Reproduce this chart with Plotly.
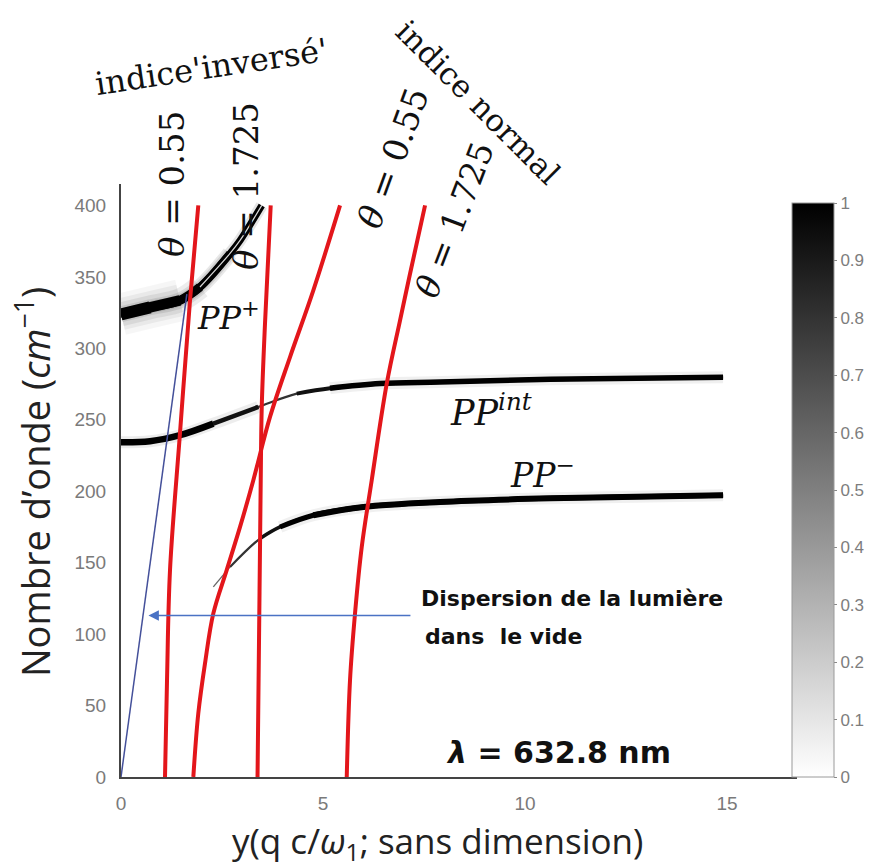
import plotly.graph_objects as go

# ---------------- data ----------------
# polariton branches (bright ridges of the intensity map), y in cm^-1
pp_plus_x = [0, 0.718, 1.460, 1.955, 2.698, 2.946, 3.483]
pp_plus_y = [323.8, 328.7, 333.6, 342.9, 366.4, 375.5, 400]

pp_int_x = [0, 0.718, 1.460, 2.285, 3.399, 4.349, 5.173, 6.411, 7.896, 10.62, 14.90]
pp_int_y = [234.3, 235.0, 239.2, 247.3, 259.0, 268.3, 272.0, 275.3, 276.4, 278.3, 279.7]

pp_minus_x = [2.285, 2.698, 3.441, 3.936, 4.760, 5.998, 7.896, 10.62, 14.90]
pp_minus_y = [133.0, 147.0, 166.9, 175.0, 183.2, 189.0, 192.5, 195.0, 197.2]

# theta curves (red)
inv055_x = [1.089, 1.139, 1.213, 1.460, 1.708, 1.913]
inv055_y = [0, 67.8, 144.8, 240.6, 333.6, 400]
inv1725_x = [3.379, 3.423, 3.458, 3.483, 3.564, 3.705]
inv1725_y = [0, 114.7, 207.7, 258.7, 317.5, 400]
norm055_x = [1.790, 1.913, 2.079, 2.285, 2.616, 2.946, 3.275, 3.688, 4.183, 4.760, 5.421]
norm055_y = [0, 44.5, 79.5, 114.5, 144.8, 175.0, 207.7, 252.0, 293.9, 340.6, 400]
norm1725_x = [5.587, 5.668, 5.792, 5.958, 6.205, 6.577, 6.906, 7.153, 7.525]
norm1725_y = [0, 67.8, 114.5, 161.0, 207.7, 275.3, 319.6, 352.2, 400]

# light line in vacuum
light_x = [0, 1.63]
light_y = [0, 338]

# arrow pointing to the light line
arrow_y = 113
arrow_tail_x = 7.20
arrow_head_x = 0.68

# colour bar
cbar_range = [0, 1]
cbar_ticks = [0, 0.1, 0.2, 0.3, 0.4, 0.5, 0.6, 0.7, 0.8, 0.9, 1]
cbar_labels = ["0", "0.1", "0.2", "0.3", "0.4", "0.5", "0.6", "0.7", "0.8", "0.9", "1"]
x_ticks = [0, 5, 10, 15]
y_ticks = [0, 50, 100, 150, 200, 250, 300, 350, 400]

# ---------------- figure ----------------
W, H = 872, 868
L, R, T, B = 121, 75, 184, 91
PW, PH = W - L - R, H - T - B


def paper(px, py):
    return (px - L) / PW, (H - B - py) / PH


fig = go.Figure()


def line(xs, ys, w, c, i0=0, i1=None):
    if i1 is None:
        i1 = len(xs) - 1
    fig.add_trace(go.Scatter(x=xs[i0:i1 + 1], y=ys[i0:i1 + 1], mode="lines",
                             line=dict(color=c, width=w, shape="spline"),
                             hoverinfo="skip", showlegend=False))


# invisible heatmap (outside the axes range) that carries the colour bar
fig.add_trace(go.Heatmap(
    z=[cbar_range], x=[-6, -5], y=[-60, -50], zmin=0, zmax=1,
    colorscale=[[0, "#ffffff"], [1, "#000000"]], hoverinfo="skip", showscale=True,
    colorbar=dict(x=(792 - L) / PW, xanchor="left", xref="paper",
                  y=0, yanchor="bottom", len=(777 - 203) / PH, lenmode="fraction",
                  thickness=42, thicknessmode="pixels",
                  outlinewidth=1, outlinecolor="#9a9a9a",
                  tickmode="array", tickvals=cbar_ticks, ticktext=cbar_labels,
                  ticks="outside", ticklen=3, tickcolor="#888",
                  tickfont=dict(family="Liberation Sans", size=17, color="#7d7d7d"),
                  ypad=0, xpad=0)))

# ---- PP+ : broad blurred band at left, tapering towards the top
for w, a, i1 in [(42, 0.035, 2), (32, 0.05, 2), (24, 0.07, 3), (16, 0.09, 4), (12, 0.1, 6)]:
    line(pp_plus_x, pp_plus_y, w, f"rgba(0,0,0,{a})", 0, i1)
line(pp_plus_x, pp_plus_y, 7, "black")
line(pp_plus_x, pp_plus_y, 8, "black", 0, 4)
line(pp_plus_x, pp_plus_y, 9, "black", 0, 3)
line(pp_plus_x, pp_plus_y, 10.5, "black", 0, 2)
line(pp_plus_x, pp_plus_y, 12, "black", 0, 1)
line(pp_plus_x, pp_plus_y, 1.2, "rgba(255,255,255,0.85)", 3, 6)

# ---- PP int
line(pp_int_x, pp_int_y, 12, "rgba(0,0,0,0.07)", 0, 4)
line(pp_int_x, pp_int_y, 12, "rgba(0,0,0,0.06)", 6, 10)
line(pp_int_x, pp_int_y, 2.2, "#333")
line(pp_int_x, pp_int_y, 4, "#111", 5, 10)
line(pp_int_x, pp_int_y, 5.5, "black", 6, 10)
line(pp_int_x, pp_int_y, 4.5, "#111", 3, 4)
line(pp_int_x, pp_int_y, 6.5, "black", 0, 3)

# ---- PP-
line(pp_minus_x, pp_minus_y, 12, "rgba(0,0,0,0.06)", 3, 8)
line(pp_minus_x, pp_minus_y, 1.3, "#666", 0, 1)
line(pp_minus_x, pp_minus_y, 2.2, "#333", 1, 8)
line(pp_minus_x, pp_minus_y, 3.5, "#111", 2, 8)
line(pp_minus_x, pp_minus_y, 5, "black", 3, 8)
line(pp_minus_x, pp_minus_y, 6, "black", 4, 8)

# ---- red theta curves
for xs, ys in [(inv055_x, inv055_y), (inv1725_x, inv1725_y),
               (norm055_x, norm055_y), (norm1725_x, norm1725_y)]:
    line(xs, ys, 4, "#e3161b")

# ---- light line
fig.add_trace(go.Scatter(x=light_x, y=light_y, mode="lines",
                         line=dict(color="#44509a", width=1.5),
                         hoverinfo="skip", showlegend=False))

ann = []


def text(px, py, t, size, family, angle=0, color="#111", xanchor="center", yanchor="middle"):
    x, y = paper(px, py)
    ann.append(dict(x=x, y=y, xref="paper", yref="paper", text=t, showarrow=False,
                    textangle=angle, xanchor=xanchor, yanchor=yanchor,
                    font=dict(family=family, size=size, color=color)))


serif = "DejaVu Serif"
text(211, 67, "indice'inversé'", 32, serif, angle=-8.5)
text(478, 102, "indice normal", 31, serif, angle=45)
text(172, 184, "<i>θ</i> = 0.55", 34, serif, angle=-90)
text(246, 186, "<i>θ</i> = 1.725", 34, serif, angle=-90)
text(393, 158, "<i>θ</i> = 0.55", 34, serif, angle=-70)
text(454, 220, "<i>θ</i> = 1.725", 33, serif, angle=-69)
text(228, 316, "<i>PP</i><sup>+</sup>", 32, serif)
text(491, 410, "<i>PP<sup>int</sup></i>", 35, serif)
text(542, 473, "<i>PP</i><sup>−</sup>", 33, serif)

sansb = "DejaVu Sans"
text(572, 598, "<b>Dispersion de la lumière</b>", 22, sansb)
text(503, 636, "<b>dans  le vide</b>", 22, sansb)
text(558, 752, "<b><i>λ</i> = 632.8 nm</b>", 30, sansb)

# axis titles
text(33, 482, "Nombre d’onde (<i>cm</i><sup>−1</sup>)", 38, "Open Sans", angle=-90, color="#222")
text(437, 842, "y(q c/<i>ω</i><sub>1</sub>; sans dimension)", 35, "Open Sans", color="#222")

# arrow
ann.append(dict(x=arrow_head_x, y=arrow_y, ax=arrow_tail_x, ay=arrow_y, xref="x", yref="y",
                axref="x", ayref="y", showarrow=True, arrowhead=2, arrowsize=1.3,
                arrowwidth=1.6, arrowcolor="#4a72c4", text=""))

fig.update_layout(
    width=W, height=H, autosize=False,
    margin=dict(l=L, r=R, t=T, b=B, pad=0, autoexpand=False),
    paper_bgcolor="white", plot_bgcolor="white",
    annotations=ann,
    showlegend=False,
    xaxis=dict(range=[0, 16.73], tickvals=x_ticks, showgrid=False, zeroline=False,
               showline=True, linecolor="#444", linewidth=2, ticks="",
               ticklabelstandoff=8, automargin=False,
               tickfont=dict(family="Liberation Sans", size=19, color="#7a7a7a")),
    yaxis=dict(range=[0, 415], tickvals=y_ticks, showgrid=False, zeroline=False,
               showline=True, linecolor="#444", linewidth=2, ticks="",
               ticklabelstandoff=9, automargin=False,
               tickfont=dict(family="Liberation Sans", size=19, color="#7a7a7a")),
)

fig.write_html("out.html", config={"displayModeBar": False},
               post_script="document.body.style.margin='0';document.body.style.overflow='hidden';")
